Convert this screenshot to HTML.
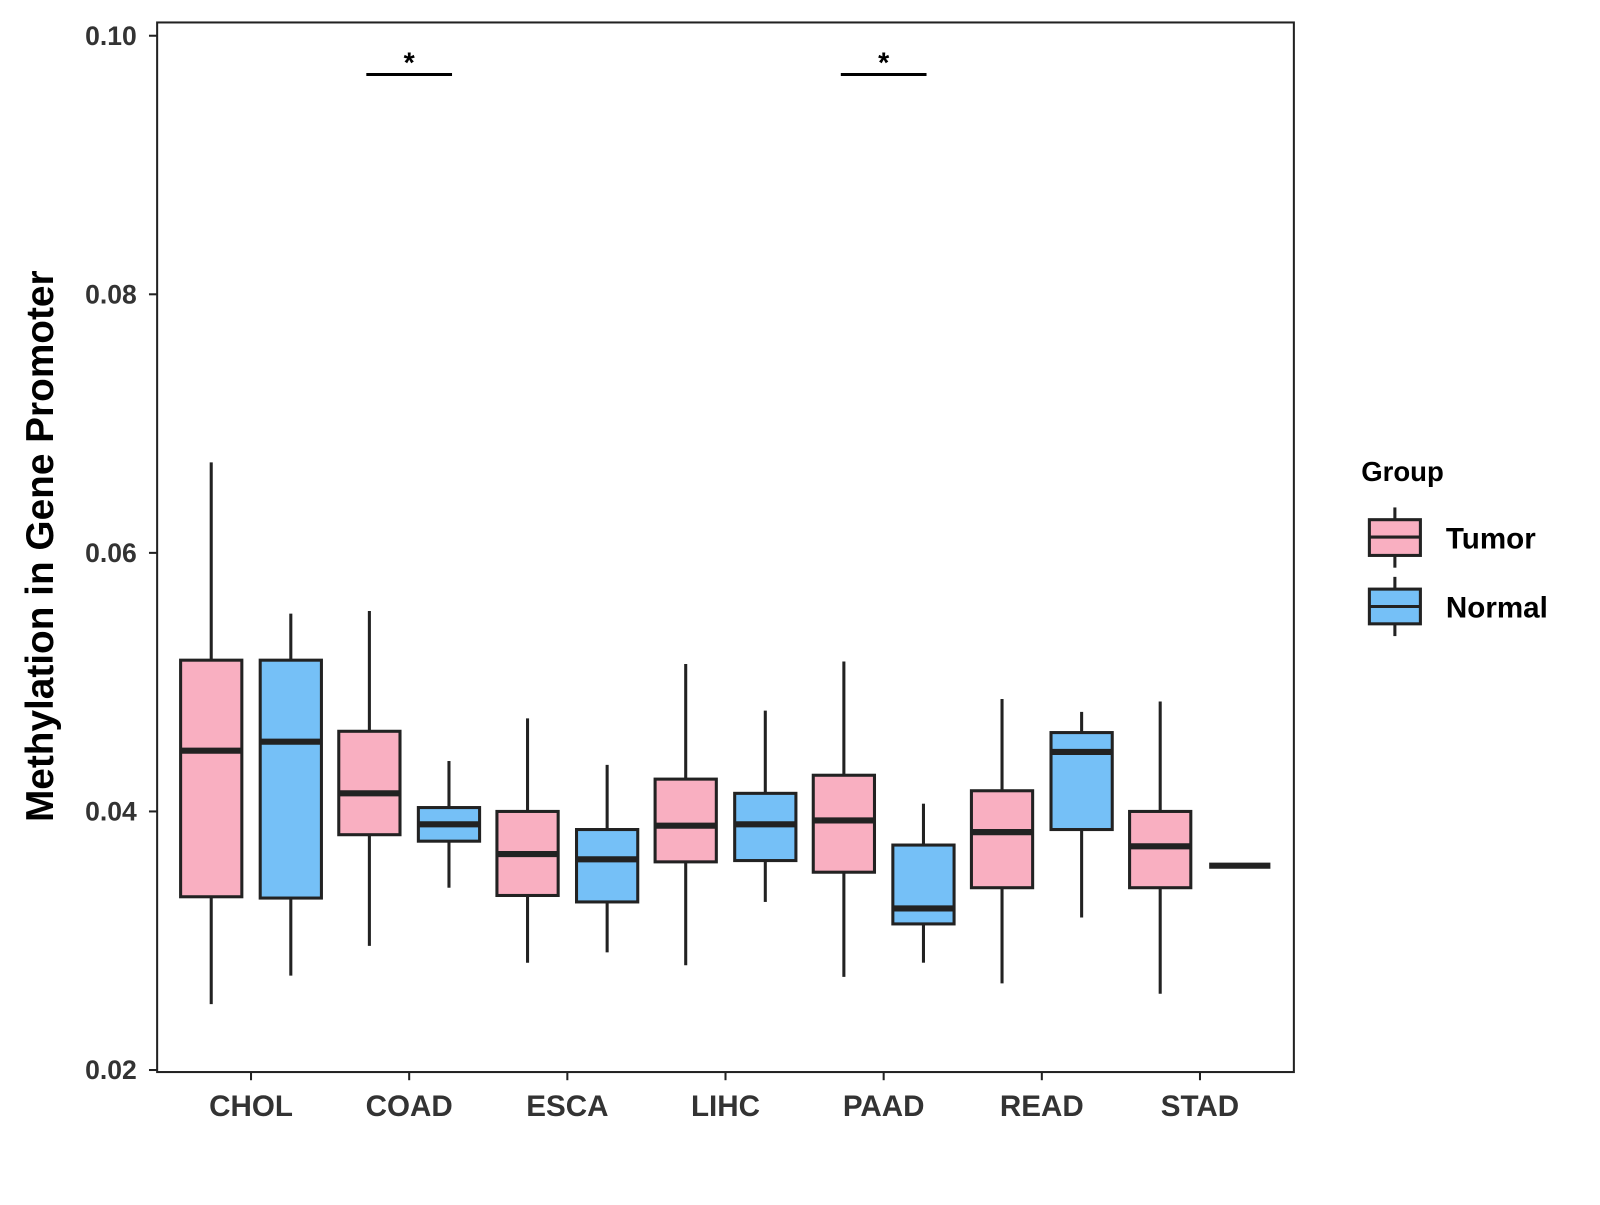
<!DOCTYPE html>
<html><head><meta charset="utf-8"><style>
body{margin:0;background:#fff}
svg text{font-family:"Liberation Sans",sans-serif;font-weight:bold}
</style></head><body>
<svg id="chart" width="1600" height="1200" xmlns="http://www.w3.org/2000/svg">
<rect x="0" y="0" width="1600" height="1200" fill="#fff"/>
<g transform="scale(1.0204,1.021)">
<rect x="154" y="22" width="1114" height="1028" fill="none" stroke="#222" stroke-width="2"/>
<g id="yaxis"></g>
<g id="xaxis"></g>
<g id="boxes"></g>
<g id="sig"></g>
<text transform="translate(52,535) rotate(-90)" text-anchor="middle" font-size="38" fill="#000">Methylation in Gene Promoter</text>
<g>
<text x="1334" y="471" font-size="27" fill="#000">Group</text>
<g>
<line x1="1367" y1="497" x2="1367" y2="556" stroke="#222" stroke-width="3"/>
<rect x="1342" y="509" width="50" height="35" fill="#F9AFC1" stroke="#222" stroke-width="3"/>
<line x1="1342" y1="526" x2="1392" y2="526" stroke="#222" stroke-width="3"/>
<text x="1417" y="537" font-size="29" fill="#000">Tumor</text></g>
<g>
<line x1="1367" y1="565" x2="1367" y2="623" stroke="#222" stroke-width="3"/>
<rect x="1342" y="577" width="50" height="34" fill="#75C0F7" stroke="#222" stroke-width="3"/>
<line x1="1342" y1="594" x2="1392" y2="594" stroke="#222" stroke-width="3"/>
<text x="1417" y="605" font-size="29" fill="#000">Normal</text></g>
</g>
</g>
</svg>
<script>
const categories=["CHOL","COAD","ESCA","LIHC","PAAD","READ","STAD"];
const yTicks=[0.02,0.04,0.06,0.08,0.10];
const yTickLabels=["0.02","0.04","0.06","0.08","0.10"];
// [min, q1, median, q3, max]
const tumorStats=[[0.0251,0.0334,0.0447,0.0517,0.0670],[0.0296,0.0382,0.0414,0.0462,0.0555],[0.0283,0.0335,0.0367,0.0400,0.0472],[0.0281,0.0361,0.0389,0.0425,0.0514],[0.0272,0.0353,0.0393,0.0428,0.0516],[0.0267,0.0341,0.0384,0.0416,0.0487],[0.0259,0.0341,0.0373,0.0400,0.0485]];
const normalStats=[[0.0273,0.0333,0.0454,0.0517,0.0553],[0.0341,0.0377,0.0390,0.0403,0.0439],[0.0291,0.0330,0.0363,0.0386,0.0436],[0.0330,0.0362,0.0390,0.0414,0.0478],[0.0283,0.0313,0.0325,0.0374,0.0406],[0.0318,0.0386,0.0446,0.0461,0.0477],[0.0358,0.0358,0.0358,0.0358,0.0358]];
const sigCategories=["COAD","PAAD"];
const sigLevel=0.097;
const NS="http://www.w3.org/2000/svg";
const y=v=>1048-(v-0.02)*12662.5;
const x=i=>246+i*155;
function mk(tag,attrs,parent){const e=document.createElementNS(NS,tag);for(const k in attrs)e.setAttribute(k,attrs[k]);parent.appendChild(e);return e;}
const ya=document.getElementById('yaxis'),xa=document.getElementById('xaxis'),bx=document.getElementById('boxes'),sg=document.getElementById('sig');
yTicks.forEach((t,i)=>{
 const l=mk('line',{x1:146,x2:154,y1:y(t),y2:y(t),stroke:'#222','stroke-width':2},ya);
 
 
 const tx=mk('text',{x:134,y:y(t)+9,'text-anchor':'end','font-size':26,fill:'#333'},ya);tx.textContent=yTickLabels[i];
 
 
});
categories.forEach((c,i)=>{
 const l=mk('line',{x1:x(i),x2:x(i),y1:1050,y2:1058,stroke:'#222','stroke-width':2},xa);
 
 
 const tx=mk('text',{x:x(i),y:1093,'text-anchor':'middle','font-size':29,fill:'#333'},xa);tx.textContent=c;
 
 
});
function box(s,cx,fill,name){
 const g=mk('g',{},bx);
 
 
 const w=60;
 mk('line',{x1:cx,x2:cx,y1:y(s[4]),y2:y(s[3]),stroke:'#222','stroke-width':3},g);
 mk('line',{x1:cx,x2:cx,y1:y(s[1]),y2:y(s[0]),stroke:'#222','stroke-width':3},g);
 mk('rect',{x:cx-w/2,y:y(s[3]),width:w,height:Math.max(0,y(s[1])-y(s[3])),fill:fill,stroke:'#222','stroke-width':3},g);
 mk('line',{x1:cx-w/2,x2:cx+w/2,y1:y(s[2]),y2:y(s[2]),stroke:'#222','stroke-width':6},g);
}
categories.forEach((c,i)=>{
 box(tumorStats[i],x(i)-39,'#F9AFC1','box-'+c.toLowerCase()+'-tumor');
 box(normalStats[i],x(i)+39,'#75C0F7','box-'+c.toLowerCase()+'-normal');
});
sigCategories.forEach(c=>{
 const i=categories.indexOf(c);
 const l=mk('line',{x1:x(i)-42,x2:x(i)+42,y1:y(sigLevel),y2:y(sigLevel),stroke:'#000','stroke-width':3},sg);
 
 
 const t=mk('text',{x:x(i),y:y(sigLevel)-2,'text-anchor':'middle','font-size':28,fill:'#000'},sg);t.textContent='*';
 
 
});
</script>
</body></html>
